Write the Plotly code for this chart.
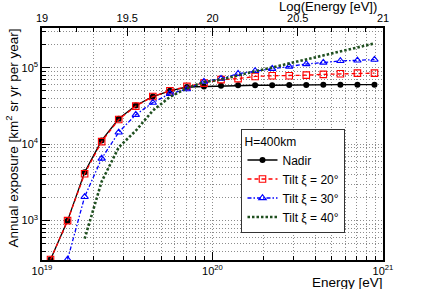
import plotly.graph_objects as go

# ---- data ----
log_energy = [19.05, 19.15, 19.25, 19.35, 19.45, 19.55, 19.65, 19.75, 19.85, 19.95,
              20.05, 20.15, 20.25, 20.35, 20.45, 20.55, 20.65, 20.75, 20.85, 20.95]
nadir = [310, 1000, 4300, 11200, 21500, 32000, 42000, 50000, 56000, 57000,
         58000, 59000, 59000, 59000, 59500, 59500, 60000, 60000, 60000, 60000]
tilt20 = [310, 1000, 4100, 10800, 21000, 31500, 42000, 50000, 57000, 63000,
          70000, 72000, 77000, 78500, 78500, 80000, 82000, 83500, 85000, 85000]
tilt30_logE = log_energy[1:]
tilt30 = [310, 2050, 6500, 14300, 24300, 35000, 45700, 52500, 66000,
          72000, 83500, 91000, 97000, 104000, 112000, 117000, 123000, 125000, 128000]
tilt40_logE = log_energy[2:]
tilt40 = [580, 3250, 9100, 15000, 27500, 41500, 54000, 65000,
          70000, 80000, 90000, 101000, 114000, 128000, 145000, 163000, 184000, 208000]

x_ticks = [1e19, 1e20, 1e21]
x_ticktext = ["10<sup>19</sup>", "10<sup>20</sup>", "10<sup>21</sup>"]
y_ticks = [1e3, 1e4, 1e5]
y_ticktext = ["10<sup>3</sup>", "10<sup>4</sup>", "10<sup>5</sup>"]
top_ticks = [19, 19.5, 20, 20.5, 21]
top_ticktext = ["19", "19.5", "20", "20.5", "21"]

x_minor = [m * 10.0 ** d for d in (19, 20) for m in range(2, 10)]
y_minor = [m * 10.0 ** d for d in (2, 3, 4, 5) for m in range(2, 10)]


def to_energy(vals):
    return [10.0 ** v for v in vals]


FONT = "Liberation Sans, Arial, Helvetica, sans-serif"
GRID = "#8c8c8c"
GDASH = "1px,2px"

fig = go.Figure()
fig.add_trace(go.Scatter(
    x=to_energy(log_energy), y=nadir, name="Nadir", mode="lines+markers",
    line=dict(color="black", width=1.3),
    marker=dict(symbol="circle", size=6, color="black")))
fig.add_trace(go.Scatter(
    x=to_energy(log_energy), y=tilt20, name="Tilt ξ = 20°", mode="lines+markers",
    line=dict(color="#ff0000", width=1.3, dash="4px,3px"),
    marker=dict(symbol="square-open", size=6.5, color="#ff0000", line=dict(width=1.1))))
fig.add_trace(go.Scatter(
    x=to_energy(tilt30_logE), y=tilt30, name="Tilt ξ = 30°", mode="lines+markers",
    line=dict(color="#0000ff", width=1.3, dash="4px,2px,1.5px,2px"),
    marker=dict(symbol="triangle-up-open", size=6.5, color="#0000ff", line=dict(width=1.1))))
fig.add_trace(go.Scatter(
    x=to_energy(tilt40_logE), y=tilt40, name="Tilt ξ = 40°", mode="lines",
    line=dict(color="#1f4f1f", width=2.6, dash="2.5px,2px")))
# invisible trace activating the top (log-energy) axis
fig.add_trace(go.Scatter(x=[top_ticks[0], top_ticks[-1]], y=[None, None], xaxis="x2",
                         mode="lines", showlegend=False, hoverinfo="skip"))

axis_common = dict(showline=True, linecolor="black", linewidth=1.5,
                   ticks="inside", tickcolor="black", tickwidth=1, ticklen=8,
                   tickfont=dict(family=FONT, size=11, color="black"),
                   zeroline=False)

fig.update_layout(
    width=426, height=289,
    margin=dict(l=42, r=43, t=28, b=29),
    paper_bgcolor="white", plot_bgcolor="white",
    font=dict(family=FONT, size=12, color="black"),
    xaxis=dict(type="log", range=[19, 21], tickmode="array", tickvals=x_ticks,
               ticktext=x_ticktext, showgrid=True, gridcolor=GRID, griddash=GDASH,
               gridwidth=1,
               minor=dict(tickmode="array", tickvals=x_minor, ticks="inside",
                          ticklen=4, tickcolor="black", showgrid=True,
                          gridcolor=GRID, griddash=GDASH, gridwidth=1),
               **axis_common),
    xaxis2=dict(overlaying="x", anchor="y", side="top", range=[19, 21],
                tickmode="array", tickvals=top_ticks, ticktext=top_ticktext,
                showgrid=False,
                minor=dict(dtick=0.1, tick0=19, ticks="inside", ticklen=4,
                           tickcolor="black", showgrid=False),
                **axis_common),
    yaxis=dict(type="log", range=[2.485, 5.52], tickmode="array", tickvals=y_ticks,
               ticktext=y_ticktext, showgrid=True, gridcolor=GRID, griddash=GDASH,
               gridwidth=1, mirror=True,
               minor=dict(tickmode="array", tickvals=y_minor, ticks="inside",
                          ticklen=4, tickcolor="black", showgrid=True,
                          gridcolor=GRID, griddash=GDASH, gridwidth=1),
               **axis_common),
    legend=dict(x=0.585, y=0.565, xanchor="left", yanchor="top",
                bgcolor="white", bordercolor="#333", borderwidth=1,
                font=dict(family=FONT, size=12, color="black"),
                title=dict(text="H=400km", font=dict(family=FONT, size=12)),
                itemwidth=30, tracegroupgap=0),
    showlegend=True,
    annotations=[
        dict(text="Energy [eV]", xref="paper", yref="paper", x=1, y=0,
             xanchor="right", yanchor="top", xshift=2, yshift=-13, showarrow=False,
             font=dict(family=FONT, size=13.5, color="black")),
        dict(text="Log(Energy [eV])", xref="paper", yref="paper", x=1, y=1,
             xanchor="right", yanchor="bottom", xshift=-4, yshift=12, showarrow=False,
             font=dict(family=FONT, size=13, color="black")),
        dict(text="Annual exposure [km<sup>2</sup> sr yr per year]", xref="paper",
             yref="paper", x=0, y=1, xanchor="center", yanchor="top", xshift=-30,
             yshift=1, textangle=-90, showarrow=False,
             font=dict(family=FONT, size=13.5, color="black")),
    ],
)

fig.write_html("out.html", config={"displayModeBar": False},
               post_script="document.body.style.margin='0';")
